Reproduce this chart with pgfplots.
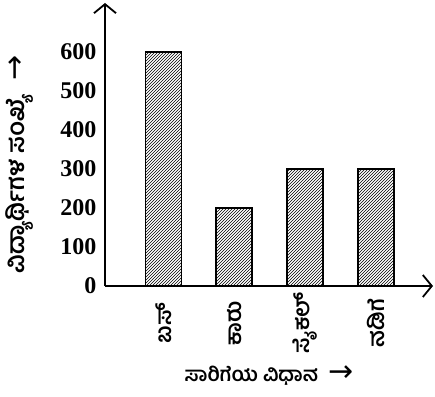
\documentclass[border=0pt]{standalone}
\usepackage{fontspec}
\setmainfont{Liberation Serif}
\newfontfamily\kn[Script=Kannada]{Hind Mysuru}
\newfontfamily\dv{DejaVu Sans}
\usepackage{pgfplots}
\pgfplotsset{compat=1.18}
\usetikzlibrary{patterns,arrows.meta}
\begin{document}
\begin{tikzpicture}
\useasboundingbox (-105pt,-110pt) rectangle (330pt,286pt);
\begin{axis}[
  at={(0,0)}, anchor=south west,
  scale only axis, width=328pt, height=283pt,
  xmin=-0.826, xmax=3.805, ymin=0, ymax=725,
  axis lines=left,
  axis line style={line width=1.8pt, -{Straight Barb[length=9pt,width=22pt,line width=1.8pt]}},
  xtick=data, xticklabels={ಬಸ್, ಕಾರು, ಸೈಕಲ್, ನಡಿಗೆ},
  ytick={0,100,200,300,400,500,600},
  major tick length=0pt,
  /pgf/number format/assume math mode=true,
  yticklabel style={font=\fontsize{24}{26}\selectfont\bfseries, xshift=-5pt},
  xticklabel style={font=\kn\bfseries\fontsize{22}{23}\selectfont, rotate=90, anchor=center, xshift=-37pt},
  ylabel={{\kn\bfseries ವಿದ್ಯಾರ್ಥಿಗಳ ಸಂಖ್ಯೆ}\hspace{14pt}{\dv\mdseries\fontsize{30}{30}\selectfont →}},
  ylabel style={font=\fontsize{24}{24}\selectfont, at={(axis description cs:-0.262,0.43)}, anchor=center},
  xlabel={{\kn\bfseries ಸಾರಿಗೆಯ ವಿಧಾನ}\hspace{10pt}{\dv\mdseries\fontsize{30}{30}\selectfont →}},
  xlabel style={font=\fontsize{20}{22}\selectfont, at={(axis description cs:0.5,-0.315)}, anchor=center},
  clip=false,
]
\addplot[ybar, bar width=36pt, draw=black, line width=1.8pt,
  pattern=north east lines, pattern color=black] coordinates {(0,600) (1,200) (2,300) (3,300)};
\end{axis}
\end{tikzpicture}
\end{document}
